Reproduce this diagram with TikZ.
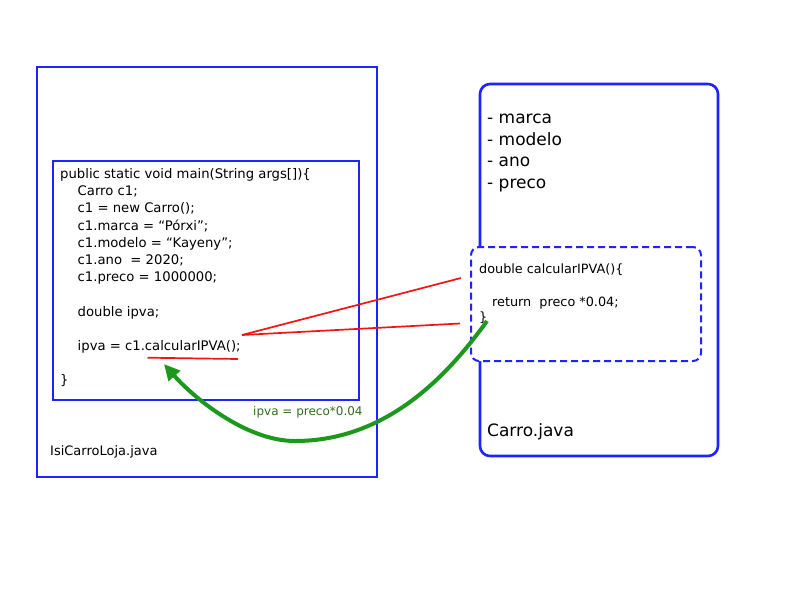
\documentclass[tikz,border=0pt]{standalone}
\usepackage{fontspec}
\setmainfont{DejaVu Sans}
\usetikzlibrary{arrows.meta}
\definecolor{bl}{RGB}{30,36,255}
\definecolor{rd}{RGB}{245,20,20}
\definecolor{gr}{RGB}{28,152,28}
\definecolor{gl}{RGB}{50,112,30}
\begin{document}
\begin{tikzpicture}[x=1pt,y=-1pt,
  code/.style={anchor=base west,inner sep=0pt,font=\fontsize{13.2}{16}\selectfont},
  attr/.style={anchor=base west,inner sep=0pt,font=\fontsize{17}{20}\selectfont},
  frame/.style={draw=bl,line width=1.8pt,inner sep=0pt},
  redline/.style={draw=rd,line width=1.7pt},
]
\useasboundingbox[fill=white] (0,0) rectangle (800,600);

% left file box
\node[frame,minimum width=340pt,minimum height=410pt] (lfile) at (207,272) {};
\node[frame,minimum width=306pt,minimum height=239pt] (mainbox) at (206,280.5) {};

% Carro box
\node[frame,line width=2.6pt,rounded corners=10pt,minimum width=238pt,minimum height=372pt] (carro) at (599,270) {};

% code lines
\node[code] (l0) at (60,178.5) {public static void main(String args[])\{};
\node[code] (l1) at (77.5,195.7) {Carro c1;};
\node[code] (l2) at (77.5,212.9) {c1 = new Carro();};
\node[code] (l3) at (77.5,230.1) {c1.marca = “Pórxi”;};
\node[code] (l4) at (77.5,247.3) {c1.modelo = “Kayeny”;};
\node[code] (l5) at (77.5,264.5) {c1.ano\ \ = 2020;};
\node[code] (l6) at (77.5,281.7) {c1.preco = 1000000;};
\node[code] (l8) at (77.5,316.1) {double ipva;};
\node[code] (l10) at (77.5,350.5) {ipva = c1.calcularIPVA();};
\node[code] (l12) at (60,384.9) {\}};

\node[code,font=\fontsize{13}{16}\selectfont] (lname) at (50,455) {IsiCarroLoja.java};

% attributes
\node[attr] (a1) at (487,123.3) {- marca};
\node[attr] (a2) at (487,145) {- modelo};
\node[attr] (a3) at (487,166.5) {- ano};
\node[attr] (a4) at (487,188) {- preco};
\node[attr] (cname) at (487,436) {Carro.java};

% method box
\node[draw=bl,fill=white,line width=2pt,dash pattern=on 7pt off 4pt,rounded corners=8pt,
      minimum width=230pt,minimum height=114pt,inner sep=0pt] (meth) at (586,304) {};
\node[code,font=\fontsize{12.8}{16}\selectfont] (m1) at (479,273.3) {double calcularIPVA()\{};
\node[code,font=\fontsize{12.8}{16}\selectfont] (m2) at (492,306.7) {return\ \ preco *0.04;};
\node[code,font=\fontsize{12.8}{16}\selectfont] (m3) at (479,321.5) {\}};

% red links
\coordinate (call) at (242,335);
\coordinate (rtop) at (461,278);
\coordinate (rbot) at (460,323.5);
\coordinate (ul0) at (147.5,357.7);
\coordinate (ul1) at (238,359);
\draw[redline] (call) -- (rtop);
\draw[redline] (call) -- (rbot);
\draw[redline] (ul0) -- (ul1);

% green return arrow
\coordinate (gstart) at (487,321);
\coordinate (gmid) at (295,441);
\coordinate (gend) at (164,364);
\draw[gr,line width=4pt,-{Triangle[length=16pt,width=15pt]}]
  (gstart) .. controls (446,378) and (385,441) .. (gmid)
  .. controls (245,441) and (192,396) .. (gend);

\node[anchor=base west,inner sep=0pt,text=gl,font=\fontsize{12}{14}\selectfont] (glabel) at (253,415) {ipva = preco*0.04};
\end{tikzpicture}
\end{document}
